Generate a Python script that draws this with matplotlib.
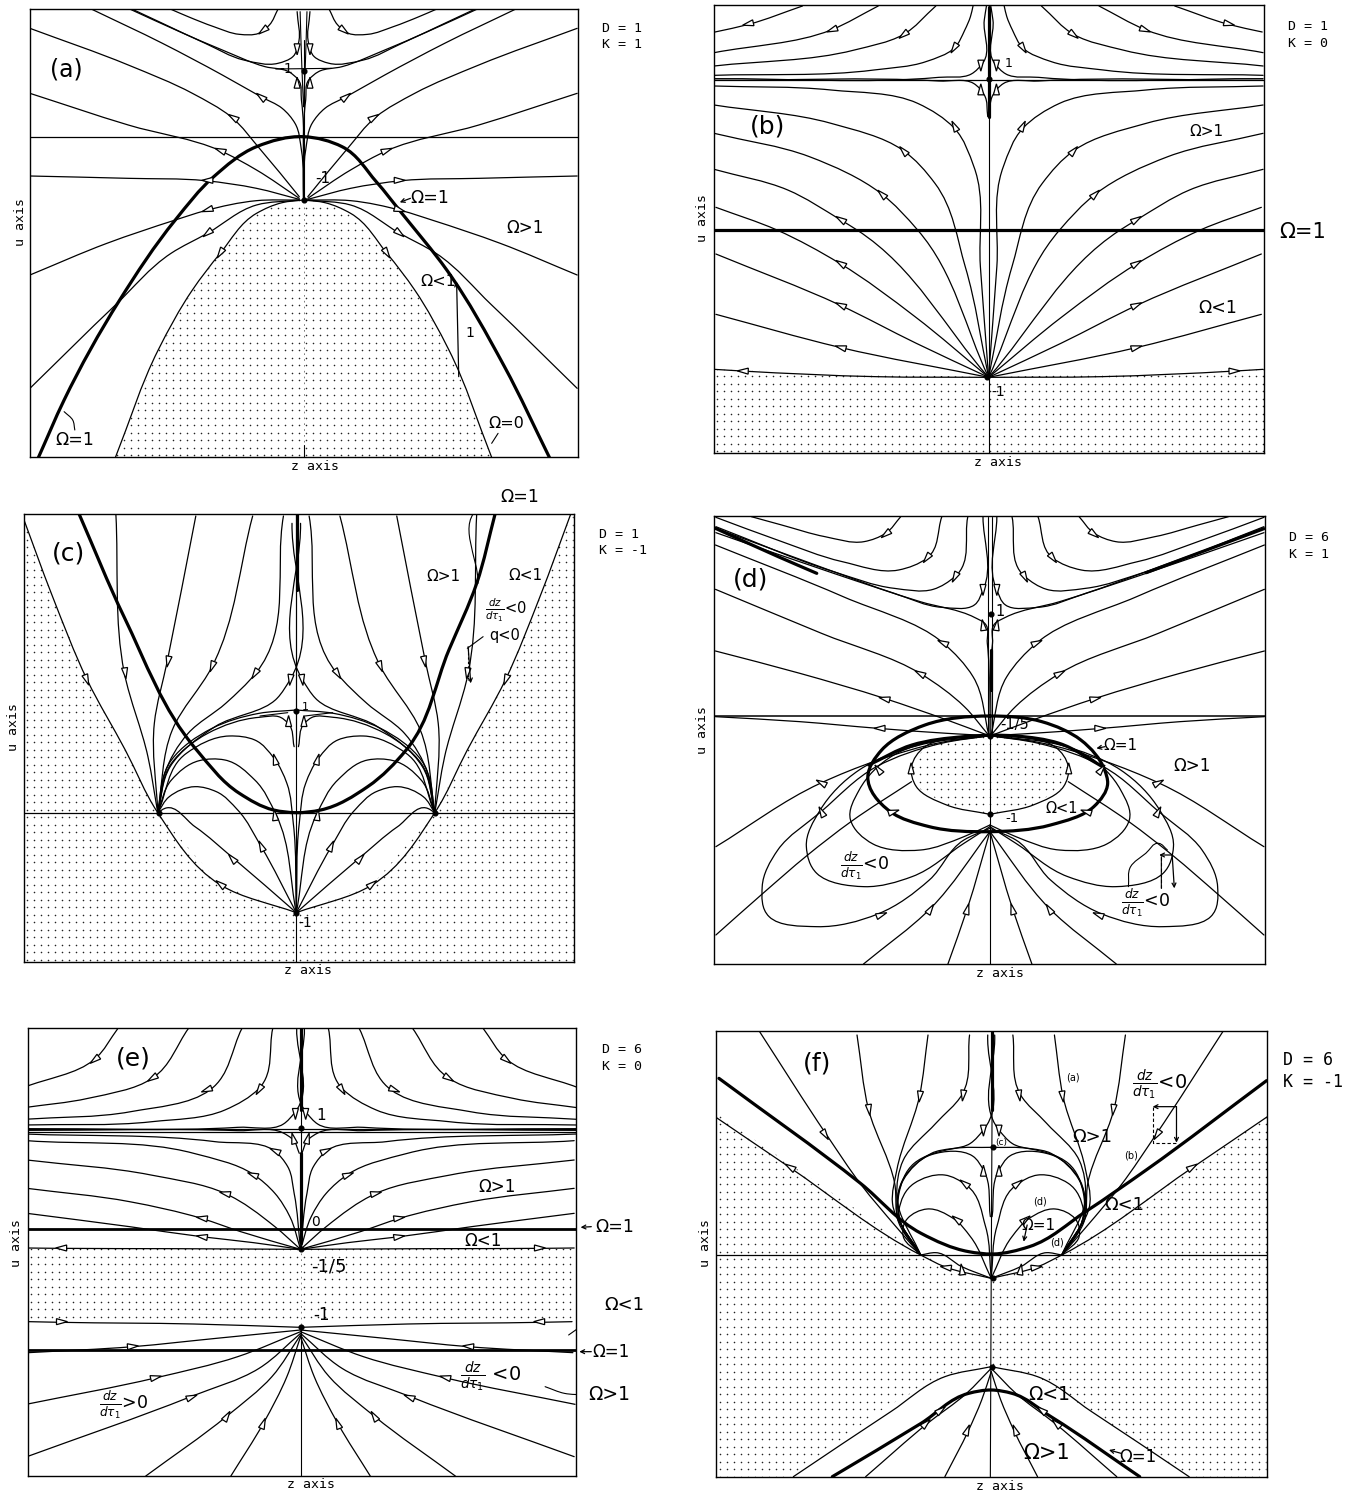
import numpy as np
import matplotlib
matplotlib.use("Agg")
import matplotlib.pyplot as plt
from matplotlib.path import Path
from matplotlib.patches import PathPatch, Polygon

# Values. z runs from the centre line of each
# panel, u runs downwards from the top of the panel's crop.

## Panel (a)  D=1 K=1
a_frame = (0, 0, 70, 1352, 28, 1372, 710)
a_lines = [
    ([60, 80, 105, 150, 210, 270, 310], [28, 75, 100, 103, 80, 50, 28]),
    ([15, 12, 25, 60, 140, 230, 330, 400], [35, 130, 170, 190, 180, 130, 70, 28]),
    ([0, 5, 12, 35, 90, 190, 290, 405], [600, 300, 240, 215, 200, 150, 95, 28]),
    ([0, 5, 20, 50, 100, 190, 330, 495], [600, 450, 370, 325, 290, 225, 130, 28]),
    ([10, 100, 170, 260, 410, 640], [590, 450, 350, 280, 195, 85]),
    ([10, 110, 195, 410, 640], [595, 510, 452, 375, 280]),
    ([10, 110, 230, 410, 640], [598, 565, 542, 535, 528]),
    ([10, 110, 230, 300, 460, 640], [600, 602, 632, 660, 730, 825]),
    ([10, 110, 225, 310, 440, 640], [600, 615, 700, 760, 915, 1165]),
    ([0, 50, 110, 195, 260, 340, 440], [600, 608, 640, 760, 870, 1050, 1372]),
]
a_thick = [([-620, -560, -430, -300, -210, -110, 0, 90, 170, 230, 335, 470, 575],
            [1372, 1200, 900, 660, 530, 440, 410, 440, 545, 640, 810, 1100, 1372])]
a_thin = [([-65, 65], [207, 205]), ([-8, -4, 0], [35, 200, 320]), ([8, 4, 0], [35, 200, 320]),
          ([0, 0], [120, 600]), ([0, 0], [1335, 1372]),
          ([-535, -540, -560], [1290, 1260, 1235]), ([440, 455], [1330, 1300])]
a_arrows = [(95, 92, 1, 1), (15, 148, 0, 1), (15, 248, 0, -1), (100, 290, 1, -1), (165, 352, 1, -0.8),
            (195, 451, 1, -0.5), (225, 541, 1, 0), (225, 630, 1, 0.4), (225, 700, 1, 1), (195, 760, 0.5, 1)]
a_hlines = [(410, 0.9)]
a_points = [(0, 212), (0, 600)]
a_labels = [("(a)", -555, 210, 17), ("-1", -40, 207, 10), ("-1", 45, 535, 11), ("Ω=1", 295, 595, 12.5),
            ("Ω>1", 518, 685, 12), ("Ω<1", 315, 845, 11.5), ("1", 390, 1000, 10), ("Ω=0", 475, 1270, 11.5),
            ("Ω=1", -535, 1320, 12.5)]
a_pointers = [(363, 1130, 358, 845), (250, 595, 225, 607)]
a_faint = [([0, 0], [620, 1335])]
a_dots = [([-440, -340, -260, -195, -110, -50, 0, 50, 110, 195, 260, 340, 440],
           [1372, 1050, 870, 760, 640, 608, 600, 608, 640, 760, 870, 1050, 1372])]

## Panel (b)  D=1 K=0
b_frame = (670, 0, 101, 1371, 16, 1360, 736)
b_lines = [
    ([430, 554, 632], [18, 73, 96]),
    ([255, 364, 634], [18, 90, 158]),
    ([122, 199, 310, 634], [18, 105, 150, 198]),
    ([36, 42, 55, 80, 145, 265, 634], [18, 50, 90, 145, 185, 210, 226]),
    ([5, 10, 14, 40, 115, 634], [18, 60, 190, 222, 232, 236]),
    ([2, 10, 35, 115, 634], [350, 285, 250, 243, 241]),
    ([0, 19, 34, 79, 164, 364, 634], [1132, 800, 500, 385, 310, 270, 258]),
    ([0, 54, 124, 199, 364, 634], [1132, 800, 550, 450, 370, 315]),
    ([0, 164, 249, 414, 634], [1132, 690, 580, 470, 400]),
    ([0, 304, 344, 464, 634], [1132, 690, 658, 570, 508]),
    ([0, 170, 344, 489, 630], [1132, 950, 790, 690, 622]),
    ([0, 167, 344, 630], [1132, 1030, 915, 762]),
    ([0, 344, 630], [1132, 1042, 943]),
    ([0, 260, 570, 634], [1132, 1130, 1113, 1108]),
]
b_thick = [([0, 0], [20, 350])]
b_thin = [([0, 0], [350, 1132]), ([0, 0], [1132, 1360])]
b_arrows = [(556, 72, 1, 0.3), (362, 90, 1, 0.5), (197, 105, 1, 1), (80, 145, 0.5, 1), (18, 197, 0, 1), (18, 268, 0, -1),
            (79, 378, 0.4, -1), (197, 452, 0.7, -1), (247, 582, 0.8, -1), (342, 658, 1, -0.8), (342, 790, 1, -0.8),
            (342, 915, 1, -0.6), (342, 1042, 1, -0.35), (568, 1113, 1, -0.03)]
b_hlines = [(690, 2.3), (240, 0.9)]
b_points = [(2, 238), (-3, 1132)]
b_labels = [("(b)", -511, 380, 18), ("1", 46, 190, 9), ("Ω>1", 504, 395, 11), ("Ω<1", 529, 925, 12.5),
            ("-1", 22, 1175, 10), ("Ω=1", 726, 695, 15)]
b_pointers = []
b_dots = [([-640, 0, 640], [1108, 1132, 1108])]

## Panel (c)  D=1 K=-1
c_frame = (0, 490, 55, 1342, 72, 1416, 693)
c_lines = [
    ([642, 570, 489, 400, 324, 177, 0], [72, 320, 570, 780, 968, 1185, 1268]),
    ([422, 402, 347, 324], [72, 550, 800, 968]),
    ([235, 302, 332, 324], [78, 515, 700, 968]),
    ([102, 197, 290, 324], [78, 530, 720, 968]),
    ([30, 95, 165, 253, 308, 324], [78, 550, 640, 730, 850, 968]),
    ([10, 15, 45, 190, 295, 324], [100, 570, 625, 710, 830, 968]),
    ([0, 87, 197, 292, 324], [660, 670, 715, 810, 968]),
    ([5, 19, 37, 87, 207, 292, 324], [770, 700, 682, 682, 730, 820, 968]),
    ([0, 7, 22, 52, 97, 157, 257, 324], [1268, 1000, 880, 805, 750, 738, 790, 968]),
    ([0, 47, 97, 167, 227, 292, 324], [1268, 975, 870, 810, 812, 870, 968]),
    ([0, 82, 137, 187, 237, 297, 324], [1268, 1070, 960, 905, 890, 920, 968]),
    ([0, 147, 237, 307, 324], [1268, 1105, 1010, 955, 968]),
]
c_thick = [([-508, -403, -233, -133, -53, 0, 57, 167, 257, 357, 422, 465],
            [72, 380, 780, 910, 960, 968, 960, 890, 780, 480, 280, 72]),
           ([2, 2], [72, 300])]
c_thin = [([0, 0], [300, 1416]), ([-85, -20], [678, 668]), ([85, 20], [668, 678]),
          ([470, 432, 425], [28, 50, 280]), ([437, 400], [440, 475]), ([0, 0], [72, 770])]
c_arrows = [(490, 570, -0.3, 1), (400, 550, -0.1, 1), (300, 515, 0.15, 1), (197, 530, 0.3, 1), (97, 552, 0.5, 1),
            (14, 570, 0.1, 1), (18, 693, 0, -1), (50, 808, 0.2, -1), (50, 975, 0.1, -1), (82, 1068, 0.35, -1),
            (150, 1105, 0.7, -1), (178, 1182, 1, -1)]
c_hlines = [(970, 0.9)]
c_points = [(0, 663), (-321, 968), (324, 968), (0, 1268)]
c_labels = [("(c)", -533, 190, 18), ("Ω>1", 344, 260, 11), ("Ω<1", 535, 255, 11),
            (r"$\frac{dz}{d\tau_1}$<0", 490, 362, 10.5), ("q<0", 487, 436, 10.5), ("Ω=1", 522, 22, 12.5),
            ("1", 20, 650, 8), ("-1", 20, 1298, 10)]
c_pointers = [(402, 470, 408, 580)]
c_outer = ([-642, -570, -489, -400, -324, -177, 0, 177, 324, 400, 489, 570, 642],
           [72, 320, 570, 780, 968, 1185, 1268, 1185, 968, 780, 570, 320, 72])

## Panel (d)  D=6 K=1
d_frame = (670, 490, 101, 1374, 78, 1422, 739)
d_lines = [
    ([206, 241, 291, 381, 481, 551], [80, 130, 155, 140, 105, 80]),
    ([111, 146, 211, 341, 491, 633], [80, 205, 240, 215, 150, 82]),
    ([51, 81, 131, 221, 361, 633], [80, 260, 298, 295, 245, 110]),
    ([16, 16, 36, 111, 221, 361, 633], [80, 300, 345, 352, 310, 245, 115]),
    ([2, 6, 12, 36, 161, 361, 633], [737, 460, 400, 382, 335, 250, 128]),
    ([634, 339, 109, 39, 2], [165, 320, 458, 560, 737]),
    ([634, 389, 159, 59, 2], [298, 430, 552, 650, 737]),
    ([634, 439, 244, 99, 2], [483, 550, 625, 690, 737]),
    ([634, 439, 259, 99, 2], [680, 695, 715, 730, 737]),
    ([0, 80, 150, 181, 170, 100, 0], [737, 742, 770, 830, 890, 945, 973]),
    ([0, 60, 160, 270, 322, 302, 222, 112, 0], [1005, 1040, 1080, 1062, 990, 900, 795, 748, 737]),
    ([0, 60, 180, 290, 400, 424, 392, 302, 162, 0], [1010, 1060, 1160, 1190, 1150, 1070, 960, 840, 765, 737]),
    ([0, 60, 140, 259, 400, 510, 526, 490, 390, 262, 112, 0],
     [1015, 1050, 1170, 1272, 1310, 1280, 1190, 1080, 965, 830, 760, 737]),
    ([0, 112, 262, 392, 633], [737, 757, 812, 880, 1070]),
    ([181, 321, 421, 526, 633], [875, 995, 1095, 1212, 1335]),
    ([0, 52, 97], [1025, 1255, 1422]),
    ([0, 137, 292], [1025, 1255, 1422]),
]
d_thick = [([0, 120, 210, 265, 272, 240, 140, 0, -140, -230, -282, -250, -150, 0],
            [678, 695, 750, 840, 880, 950, 1005, 1025, 1010, 965, 860, 780, 705, 678]),
           ([-280, -180, -60, 60, 160, 260], [825, 765, 740, 738, 760, 830]),
           ([-634, -489, -400], [115, 200, 250]),
           ([633, 480, 361], [116, 190, 248]), ([3, 3], [480, 600])]
d_thin = [([0, 0], [737, 1422]), ([-4, -4], [80, 737]), ([4, 4], [80, 737]),
          ([320, 325, 360, 390, 410], [1190, 1130, 1090, 1060, 1080]), ([396, 396, 396], [1100, 1150, 1195])]
d_arrows = [(241, 133, 1, 1), (146, 205, 0.6, 1), (81, 262, 0.4, 1), (16, 300, 0, 1), (16, 405, 0.1, -1),
            (109, 458, 1, -0.6), (162, 550, 1, -0.7), (244, 626, 1, -0.3), (255, 715, 1, 0), (389, 965, 0.4, -1),
            (258, 838, 0.6, -1), (390, 878, 1, -0.7), (182, 835, 0, -1), (52, 1257, -0.2, -1), (137, 1257, -0.5, -1),
            (250, 1274, -1, -0.5), (222, 965, -1, -0.4)]
d_hlines = [(678, 1.1)]
d_points = [(2, 372), (1, 737), (0, 973)]
d_labels = [("(d)", -554, 270, 18), ("1", 23, 365, 10.5), ("-1/5", 58, 702, 10.5), ("Ω=1", 301, 768, 11),
            ("Ω>1", 466, 827, 12), ("Ω<1", 166, 955, 10.5), ("-1", 51, 987, 9.5),
            (r"$\frac{dz}{d\tau_1}$<0", -289, 1130, 12.5), (r"$\frac{dz}{d\tau_1}$<0", 361, 1240, 12.5)]
d_pointers = [(421, 1095, 391, 1095), (421, 1095, 426, 1195), (266, 770, 246, 775)]
d_dashed = [([396, 396], [1100, 1195])]
d_dots = [([0, 80, 150, 181, 170, 100, 0, -100, -170, -181, -150, -80, 0],
           [737, 742, 770, 830, 890, 945, 973, 945, 890, 830, 770, 742, 737])]

## Panel (e)  D=6 K=0
e_frame = (0, 1010, 65, 1348, 55, 1398, 703)
e_lines = [
    ([427, 482, 647], [55, 148, 232]),
    ([262, 347, 497, 647], [55, 205, 265, 293]),
    ([137, 212, 397, 647], [55, 240, 305, 328]),
    ([65, 97, 177, 347, 647], [55, 235, 300, 335, 345]),
    ([9, 15, 40, 147, 647], [55, 310, 342, 352, 356]),
    ([3, 17, 42, 147, 647], [430, 390, 368, 362, 361]),
    ([0, 15, 30, 62, 200, 645], [718, 550, 470, 422, 395, 372]),
    ([0, 25, 60, 112, 250, 640], [718, 620, 550, 492, 430, 392]),
    ([0, 60, 177, 350, 640], [718, 650, 550, 495, 450]),
    ([0, 140, 232, 400, 640], [718, 665, 625, 575, 535]),
    ([0, 110, 232, 400, 640], [718, 698, 680, 650, 610]),
    ([0, 300, 565, 640], [718, 716, 715, 714]),
    ([0, 250, 560, 635], [952, 942, 937, 935]),
    ([0, 197, 392, 637], [960, 985, 1010, 1028]),
    ([0, 147, 337, 642], [965, 1040, 1103, 1183]),
    ([0, 97, 257, 640], [970, 1075, 1160, 1340]),
    ([0, 67, 172, 362], [975, 1100, 1218, 1398]),
    ([0, 32, 87, 163], [980, 1100, 1240, 1398]),
]
e_thick = [([0, 0], [55, 300]), ([2, 2], [430, 700])]
e_thin = [([0, 0], [1040, 1398]), ([0, 0], [300, 430]), ([0, 0], [952, 1040]),
          ([717, 677, 627], [895, 930, 975]), ([667, 617, 572], [1155, 1150, 1130])]
e_arrows = [(482, 150, 1, 1), (347, 205, 1, 0.8), (220, 240, 1, 0.5), (97, 240, 0.5, 1), (12, 312, 0, 1),
            (17, 385, 0.2, -1), (60, 422, 1, -0.6), (112, 494, 1, -0.5), (177, 550, 1, -0.3), (231, 624, 1, -0.2),
            (231, 680, 1, -0.2), (560, 714, 1, 0), (558, 935, -1, 0), (392, 1009, -1, -0.1), (338, 1102, -1, -0.3),
            (254, 1161, -1, -0.5), (172, 1218, -0.5, -1), (87, 1240, -0.3, -1)]
e_hlines = [(658, 2.0), (1020, 2.0), (358, 0.9), (365, 0.9)]
e_points = [(2, 355), (0, 718), (0, 952)]
e_labels = [("(e)", -391, 145, 18), ("1", 49, 316, 11), ("0", 35, 637, 10), ("Ω>1", 459, 530, 12),
            ("Ω=1", 735, 650, 12.5), ("Ω<1", 427, 692, 12), ("-1/5", 67, 770, 13), ("-1", 49, 915, 12),
            ("Ω<1", 757, 885, 13), ("Ω=1", 725, 1025, 12), (r"$\frac{dz}{d\tau_1}$ <0", 445, 1100, 14),
            ("Ω>1", 722, 1155, 13.5), (r"$\frac{dz}{d\tau_1}$>0", -413, 1185, 12.5)]
e_pointers = [(680, 650, 655, 652), (680, 1025, 652, 1025)]
e_faint = [([0, 0], [730, 945])]
e_dots = [([-640, 640, 640, -640], [718, 718, 935, 935])]

## Panel (f)  D=6 K=-1
f_frame = (670, 1010, 107, 1378, 62, 1402, 742)
f_lines = [
    ([0, 108, 163, 468, 638], [805, 770, 735, 470, 320]),
    ([535, 380, 300, 220, 163], [65, 375, 525, 650, 735]),
    ([310, 283, 223, 213, 163], [75, 300, 520, 640, 735]),
    ([146, 166, 218, 228, 163], [75, 260, 480, 580, 735]),
    ([50, 68, 128, 203, 218, 163], [75, 255, 340, 450, 560, 735]),
    ([8, 18, 48, 138, 203, 218, 163], [75, 360, 400, 430, 510, 600, 735]),
    ([0, 88, 178, 213, 203, 163], [412, 416, 460, 550, 660, 735]),
    ([2, 18, 43, 138, 200, 213, 163], [620, 480, 438, 434, 500, 620, 735]),
    ([0, 13, 58, 108, 178, 213, 163], [805, 650, 525, 495, 520, 600, 735]),
    ([0, 48, 88, 148, 193, 203, 163], [805, 680, 625, 597, 625, 680, 735]),
    ([0, 68, 128, 163], [805, 770, 728, 735]),
    ([0, 107, 232, 457], [1070, 1100, 1205, 1400]),
    ([0, 57, 147, 290], [1075, 1150, 1240, 1400]),
    ([0, 22, 52, 107], [1085, 1170, 1260, 1400]),
]
f_thick = [([-629, -302, -162, -52, 3, 88, 218, 358, 636], [205, 520, 670, 725, 732, 710, 605, 480, 212]),
           ([-367, -162, -52, 0, 48, 138, 343], [1400, 1240, 1150, 1140, 1150, 1220, 1400]), ([2, 2], [65, 300])]
f_thin = [([2, 0, -2], [300, 800, 1400])]
f_arrows = [(165, 260, 0.1, 1), (282, 300, -0.1, 1), (383, 375, -0.5, 1), (65, 257, 0.1, 1), (18, 362, 0, 1),
            (18, 482, 0, -1), (62, 520, 1, -1), (80, 628, 1, -1), (465, 471, 1, -0.8), (116, 1200, -1, -1.0),
            (150, 1240, -0.8, -1), (55, 1260, -0.3, -1), (68, 778, 0.1, -1), (105, 772, 1, -0.2)]
f_hlines = [(735, 0.9)]
f_points = [(3, 412), (3, 805), (1, 1070)]
f_labels = [("(f)", -402, 160, 18), ("(a)", 188, 202, 7), ("(b)", 323, 437, 7), ("(c)", 23, 397, 6.5),
            ("(d)", 113, 573, 7), ("(d)", 151, 697, 7), ("Ω>1", 233, 382, 13), ("Ω<1", 308, 585, 13),
            ("Ω=1", 108, 645, 11), ("Ω<1", 133, 1155, 13.5), ("Ω>1", 128, 1330, 15), ("Ω=1", 338, 1340, 12),
            (r"$\frac{dz}{d\tau_1}$<0", 388, 225, 14)]
f_pointers = [(428, 290, 373, 290), (428, 290, 428, 398), (83, 645, 75, 695), (300, 1330, 272, 1320)]
f_dashed = [([373, 373, 428], [290, 400, 400])]
f_dots = ([-629, -457, -162, -80, 0, 108, 163, 468, 638, 636, 458, 232, 107, 0, -107, -242, -467, -635],
          [315, 470, 730, 785, 805, 770, 735, 470, 320, 1402, 1402, 1205, 1100, 1070, 1095, 1190, 1402, 1402])

side_notes = [
    (a_frame, "D = 1", "K = 1", 1408, 85, 133, 9.5),
    (b_frame, "D = 1", "K = 0", 1428, 80, 130, 9.5),
    (c_frame, "D = 1", "K = -1", 1400, 132, 183, 9.5),
    (d_frame, "D = 6", "K = 1", 1430, 142, 192, 9.5),
    (e_frame, "D = 6", "K = 0", 1408, 118, 168, 9.5),
    (f_frame, "D = 6", "K = -1", 1415, 150, 215, 12),
]
u_label_pos = [(48, 665), (75, 655), (32, 710), (75, 720), (38, 700), (82, 700)]
z_label_pos = [(737, 1398), (757, 1388), (720, 1442), (762, 1450), (728, 1425), (762, 1430)]

W, H = 1346, 1492
fig = plt.figure(figsize=(W / 100, H / 100), dpi=100)
THIN = 0.9
THICK = 2.3
SY = 3.0


def scale_x(frame):
    # the two columns of crops came back a little squeezed sideways
    return 2.339 if frame[0] == 0 else 2.31


def smooth_path(z, y):
    # bezier through the read points, so few points still give a round curve
    pts = np.column_stack([z, y]).astype(float)
    n = len(pts)
    if n < 3:
        return Path(pts)
    closed = np.allclose(pts[0], pts[-1])
    tang = np.zeros_like(pts)
    for i in range(n):
        if 0 < i < n - 1 or closed:
            p0 = pts[i - 1] if i > 0 else pts[n - 2]
            p2 = pts[i + 1] if i < n - 1 else pts[1]
            d1 = max(np.linalg.norm(pts[i] - p0), 1e-6)
            d2 = max(np.linalg.norm(p2 - pts[i]), 1e-6)
            tang[i] = (d2 * (pts[i] - p0) / d1 + d1 * (p2 - pts[i]) / d2) / (d1 + d2)
    if not closed:
        tang[0] = pts[1] - pts[0]
        tang[-1] = pts[-1] - pts[-2]
    tang = tang / np.maximum(np.linalg.norm(tang, axis=1, keepdims=True), 1e-6)
    verts = [pts[0]]
    codes = [Path.MOVETO]
    for i in range(n - 1):
        d = np.linalg.norm(pts[i + 1] - pts[i]) / 3
        verts += [pts[i] + tang[i] * d, pts[i + 1] - tang[i + 1] * d, pts[i + 1]]
        codes += [Path.CURVE4] * 3
    return Path(verts, codes)


def draw_curve(ax, z, y, lw, ls="-"):
    ax.add_patch(PathPatch(smooth_path(z, y), fc="none", ec="black", lw=lw, ls=ls, zorder=2, capstyle="round"))


def draw_arrow(ax, sx, z, y, dz, dy):
    # triangle is sized in pixels, then taken back to data units
    d = np.array([dz / sx, dy / SY], dtype=float)
    d = d / np.linalg.norm(d)
    n = np.array([-d[1], d[0]])
    k = np.array([sx, SY])
    c = np.array([z, y], dtype=float)
    tri = [c + d * 5.5 * k, c + (-d * 5.5 + n * 3.0) * k, c + (-d * 5.5 - n * 3.0) * k]
    ax.add_patch(Polygon(tri, closed=True, fc="white", ec="black", lw=0.9, zorder=3))


def stipple(ax, frame, z, y):
    x0, x1, y0, y1 = frame[2] - frame[6], frame[3] - frame[6], frame[4], frame[5]
    gz, gy = np.meshgrid(np.arange(x0 + 8, x1, 7 * scale_x(frame)), np.arange(y0 + 10, y1, 22.5))
    sc = ax.scatter(gz.ravel(), gy.ravel(), s=1.3, c="#222222", linewidths=0, zorder=1)
    sc.set_clip_path(PathPatch(Path(np.column_stack([z, y])), transform=ax.transData))


def panel(frame, lines, thick, thin, arrows, hlines, points, labels, pointers):
    off_x, off_y, x0, x1, y0, y1, cx = frame
    sx = scale_x(frame)
    ax = fig.add_axes([(off_x + x0 / sx) / W, 1 - (off_y + y1 / SY) / H, (x1 - x0) / sx / W, (y1 - y0) / SY / H])
    ax.set_xlim(x0 - cx, x1 - cx)
    ax.set_ylim(y1, y0)
    ax.set_xticks([])
    ax.set_yticks([])
    for s in ax.spines.values():
        s.set_linewidth(1.0)
    for z, y in lines:
        draw_curve(ax, z, y, THIN)
        draw_curve(ax, [-v for v in z], y, THIN)
    for z, y in thick:
        draw_curve(ax, z, y, THICK)
    for z, y in thin:
        draw_curve(ax, z, y, 0.8)
    for y, lw in hlines:
        ax.axhline(y, color="black", lw=lw, zorder=2)
    for z, y, dz, dy in arrows:
        draw_arrow(ax, sx, z, y, dz, dy)
        draw_arrow(ax, sx, -z, y, -dz, dy)
    for z, y in points:
        ax.plot(z, y, "o", color="black", ms=3.4, zorder=4)
    for txt, z, y, size in labels:
        ax.text(z, y, txt, fontsize=size, ha="center", va="center", zorder=5, clip_on=False)
    for z0, y0_, z1, y1_ in pointers:
        ax.annotate("", xy=(z1, y1_), xytext=(z0, y0_), annotation_clip=False,
                    arrowprops=dict(arrowstyle="->", lw=0.9, color="black", shrinkA=0, shrinkB=0, mutation_scale=7))
    return ax


ax_a = panel(a_frame, a_lines, a_thick, a_thin, a_arrows, a_hlines, a_points, a_labels, a_pointers)
stipple(ax_a, a_frame, *a_dots[0])
ax_b = panel(b_frame, b_lines, b_thick, b_thin, b_arrows, b_hlines, b_points, b_labels, b_pointers)
stipple(ax_b, b_frame, b_dots[0][0] + [640, -640], b_dots[0][1] + [1360, 1360])
ax_c = panel(c_frame, c_lines, c_thick, c_thin, c_arrows, c_hlines, c_points, c_labels, c_pointers)
stipple(ax_c, c_frame, c_outer[0] + [649, 649, -638, -638], c_outer[1] + [72, 1416, 1416, 72])
ax_d = panel(d_frame, d_lines, d_thick, d_thin, d_arrows, d_hlines, d_points, d_labels, d_pointers)
stipple(ax_d, d_frame, *d_dots[0])
ax_e = panel(e_frame, e_lines, e_thick, e_thin, e_arrows, e_hlines, e_points, e_labels, e_pointers)
stipple(ax_e, e_frame, *e_dots[0])
ax_f = panel(f_frame, f_lines, f_thick, f_thin, f_arrows, f_hlines, f_points, f_labels, f_pointers)
stipple(ax_f, f_frame, *f_dots)
for z, y in f_dashed:
    ax_f.plot(z, y, color="black", lw=0.8, ls=(0, (3, 2)), zorder=2)
for z, y in d_dashed:
    ax_d.plot(z, y, color="black", lw=0.8, ls=(0, (3, 2)), zorder=2)
ax_c.plot([402, 402], [475, 570], color="black", lw=0.8, ls=(0, (2, 2)), zorder=2)
# centre line only shows as broken dashes through the dotted areas
for ax, faint in [(ax_a, a_faint), (ax_e, e_faint)]:
    for z, y in faint:
        ax.plot(z, y, color="#666666", lw=0.6, ls=(0, (2, 5)), zorder=1)

# axis names and the D / K notes sit outside the frames
for ax, fr, (ux, uy), (zx, zy), note in zip([ax_a, ax_b, ax_c, ax_d, ax_e, ax_f],
                                            [a_frame, b_frame, c_frame, d_frame, e_frame, f_frame],
                                            u_label_pos, z_label_pos, side_notes):
    cx = fr[6]
    ax.text(ux - cx, uy, "u axis", family="DejaVu Sans Mono", fontsize=9.5, rotation=90, ha="center", va="center", clip_on=False)
    ax.text(zx - cx, zy, "z axis", family="DejaVu Sans Mono", fontsize=9.5, ha="center", va="center", clip_on=False)
    ax.text(note[3] - cx, note[4], note[1], family="DejaVu Sans Mono", fontsize=note[6], ha="left", va="center", clip_on=False)
    ax.text(note[3] - cx, note[5], note[2], family="DejaVu Sans Mono", fontsize=note[6], ha="left", va="center", clip_on=False)

plt.savefig("out.png", dpi=100)
